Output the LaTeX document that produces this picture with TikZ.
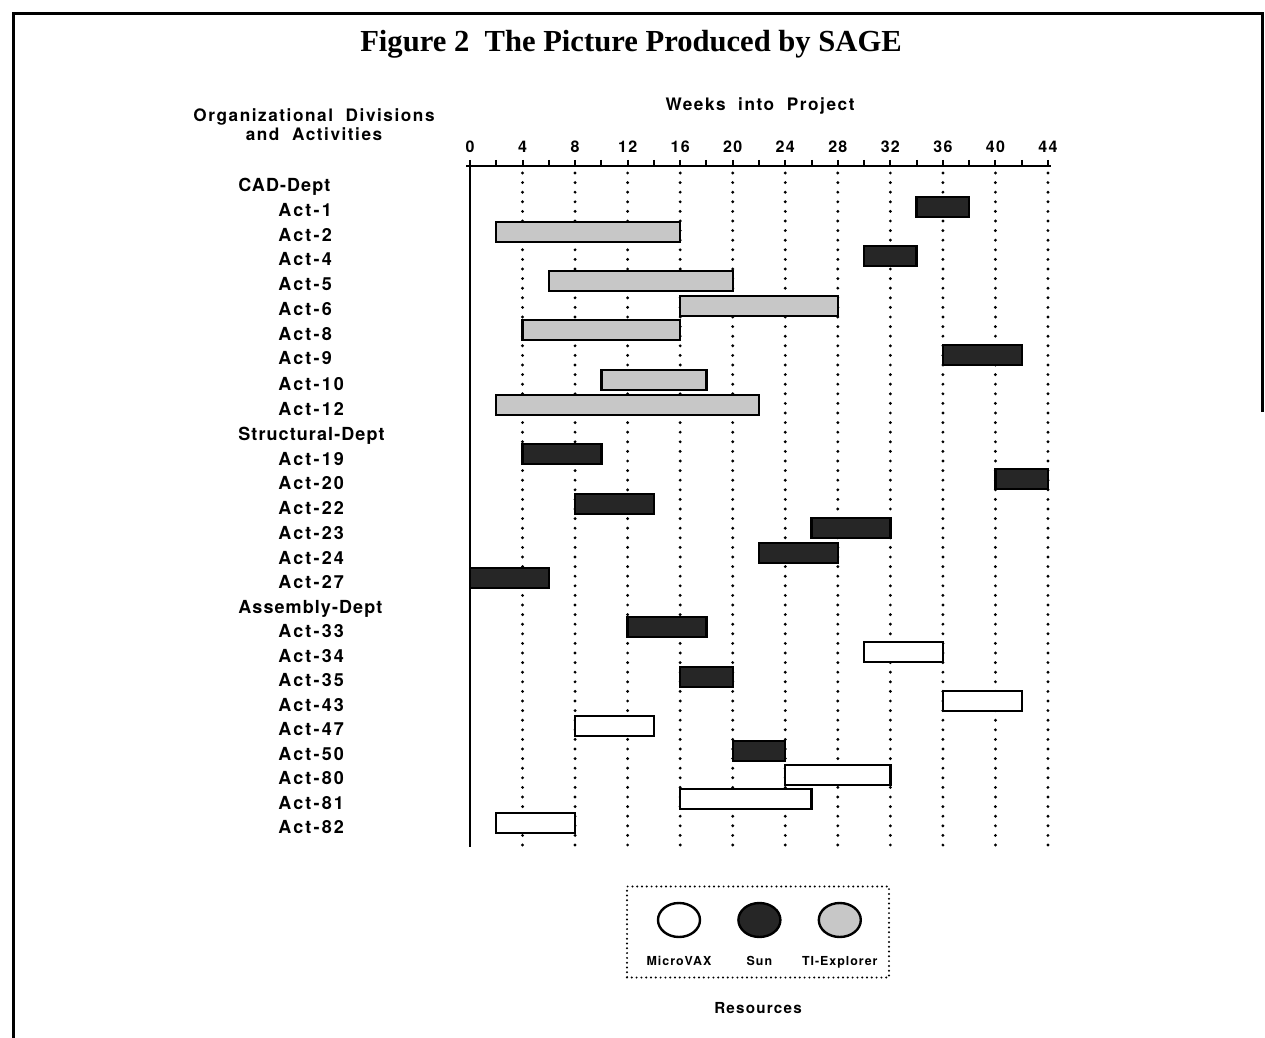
\documentclass[tikz,border=0pt]{standalone}
\usepackage{fontspec}
\setmainfont{Liberation Serif}
\newfontfamily\actfont[LetterSpace=12]{TeX Gyre Heros}
\newfontfamily\deptfont[LetterSpace=6]{TeX Gyre Heros}
\newfontfamily\headfont[LetterSpace=9]{TeX Gyre Heros}
\newfontfamily\keyfont[LetterSpace=8]{TeX Gyre Heros}
\usepackage{tikz}
\usetikzlibrary{shapes.geometric, positioning}
\tikzstyle{frameline}=
[
	line width=1.5pt
	, line cap=rect
]
\tikzstyle{titletext}=
[
	font=\bfseries\fontsize{15.3}{18}\selectfont
	, text height=10pt
	, text depth=0pt
	, inner sep=0pt
]
\tikzstyle{headtext}=
[
	font=\headfont\bfseries\fontsize{8.6}{9.5}\selectfont
	, align=center
	, inner sep=0pt
]
\tikzstyle{deptlabel}=
[
	anchor=west
	, font=\deptfont\bfseries\fontsize{9}{10}\selectfont
	, text height=6.5pt
	, text depth=0pt
	, inner sep=0pt
]
\tikzstyle{actlabel}=
[
	anchor=west
	, font=\actfont\bfseries\fontsize{9}{10}\selectfont
	, text height=6.5pt
	, text depth=0pt
	, inner sep=0pt
]
\tikzstyle{weeknum}=
[
	font=\keyfont\bfseries\fontsize{8}{9}\selectfont
	, text height=5.6pt
	, text depth=0pt
	, inner sep=0pt
]
\tikzstyle{axisline}=[line width=1pt]
\tikzstyle{gridline}=
[
	line width=1.6pt
	, line cap=round
	, dash pattern=on 0pt off 4.8pt
]
\tikzstyle{sunbar}=
[
	draw=black
	, line width=1.2pt
	, fill=black!85
]
\tikzstyle{tibar}=
[
	draw=black
	, line width=1.2pt
	, fill=black!22
]
\tikzstyle{vaxbar}=
[
	draw=black
	, line width=1.2pt
	, fill=white
]
\tikzstyle{legendbox}=
[
	rectangle
	, draw=black
	, line width=1.1pt
	, line cap=round
	, dash pattern=on 0pt off 2.4pt
	, minimum width=131pt
	, minimum height=45.5pt
]
\tikzstyle{keydot}=
[
	ellipse
	, draw=black
	, line width=1.2pt
	, minimum width=21pt
	, minimum height=17pt
	, inner sep=0pt
]
\tikzstyle{keytext}=
[
	font=\keyfont\bfseries\fontsize{6.2}{7}\selectfont
	, text height=4.4pt
	, text depth=0pt
	, inner sep=0pt
]
\tikzstyle{restext}=
[
	font=\keyfont\bfseries\fontsize{7.6}{9}\selectfont
	, text height=5.4pt
	, text depth=0pt
	, inner sep=0pt
]

\begin{document}
\begin{tikzpicture}[x=0.5pt,y=-0.5pt]
\useasboundingbox (0,0) rectangle (1265,1038);
\draw[frameline](13,1040)--(13,14)--(1262,14)--(1262,410);

\node(title)[titletext] at (631,42){Figure 2\ \ The Picture Produced by SAGE};
\node(heading)[headtext] at (314,125){Organizational\ \ Divisions\\and\ \ Activities};
\node(weeks)[headtext] at (760,106){Weeks\ \ into\ \ Project};

% divisions and activities
\node(cad)[deptlabel] at (238,185){CAD-Dept};
\node(a1)[actlabel] at (278,210){Act-1};
\node(a2)[actlabel] at (278,235){Act-2};
\node(a4)[actlabel] at (278,259){Act-4};
\node(a5)[actlabel] at (278,284){Act-5};
\node(a6)[actlabel] at (278,309){Act-6};
\node(a8)[actlabel] at (278,334){Act-8};
\node(a9)[actlabel] at (278,358){Act-9};
\node(a10)[actlabel] at (278,384){Act-10};
\node(a12)[actlabel] at (278,409){Act-12};
\node(struct)[deptlabel] at (238,434){Structural-Dept};
\node(a19)[actlabel] at (278,459){Act-19};
\node(a20)[actlabel] at (278,483){Act-20};
\node(a22)[actlabel] at (278,508){Act-22};
\node(a23)[actlabel] at (278,533){Act-23};
\node(a24)[actlabel] at (278,558){Act-24};
\node(a27)[actlabel] at (278,582){Act-27};
\node(assem)[deptlabel] at (238,607){Assembly-Dept};
\node(a33)[actlabel] at (278,631){Act-33};
\node(a34)[actlabel] at (278,656){Act-34};
\node(a35)[actlabel] at (278,680){Act-35};
\node(a43)[actlabel] at (278,705){Act-43};
\node(a47)[actlabel] at (278,729){Act-47};
\node(a50)[actlabel] at (278,754){Act-50};
\node(a80)[actlabel] at (278,778){Act-80};
\node(a81)[actlabel] at (278,803){Act-81};
\node(a82)[actlabel] at (278,827){Act-82};

\begin{scope}[shift={(470,0)},x=6.568pt]
% week axis
\node(n0)[weeknum] at (0,147){0};
\node(n4)[weeknum] at (4,147){4};
\node(n8)[weeknum] at (8,147){8};
\node(n12)[weeknum] at (12,147){12};
\node(n16)[weeknum] at (16,147){16};
\node(n20)[weeknum] at (20,147){20};
\node(n24)[weeknum] at (24,147){24};
\node(n28)[weeknum] at (28,147){28};
\node(n32)[weeknum] at (32,147){32};
\node(n36)[weeknum] at (36,147){36};
\node(n40)[weeknum] at (40,147){40};
\node(n44)[weeknum] at (44,147){44};

\draw[axisline](-0.3,166)--(44.2,166);
\draw[axisline](0,160)--(0,847);
\draw[axisline](2,160)--(2,166) (4,160)--(4,166) (6,160)--(6,166) (8,160)--(8,166)
	(10,160)--(10,166) (12,160)--(12,166) (14,160)--(14,166) (16,160)--(16,166)
	(18,160)--(18,166) (20,160)--(20,166) (22,160)--(22,166) (24,160)--(24,166)
	(26,160)--(26,166) (28,160)--(28,166) (30,160)--(30,166) (32,160)--(32,166)
	(34,160)--(34,166) (36,160)--(36,166) (38,160)--(38,166) (40,160)--(40,166)
	(42,160)--(42,166) (44,160)--(44,166);

\draw[gridline](4,173)--(4,848);
\draw[gridline](8,173)--(8,848);
\draw[gridline](12,173)--(12,848);
\draw[gridline](16,173)--(16,848);
\draw[gridline](20,173)--(20,848);
\draw[gridline](24,173)--(24,848);
\draw[gridline](28,173)--(28,848);
\draw[gridline](32,173)--(32,848);
\draw[gridline](36,173)--(36,848);
\draw[gridline](40,173)--(40,848);
\draw[gridline](44,173)--(44,848);

% bars
\draw[sunbar](34,197) rectangle (38,217);
\draw[tibar](2,222) rectangle (16,242);
\draw[sunbar](30,246) rectangle (34,266);
\draw[tibar](6,271) rectangle (20,291);
\draw[tibar](16,296) rectangle (28,316);
\draw[tibar](4,320) rectangle (16,340);
\draw[sunbar](36,345) rectangle (42,365);
\draw[tibar](10,370) rectangle (18,390);
\draw[tibar](2,395) rectangle (22,415);
\draw[sunbar](4,444) rectangle (10,464);
\draw[sunbar](40,469) rectangle (44,489);
\draw[sunbar](8,494) rectangle (14,514);
\draw[sunbar](26,518) rectangle (32,538);
\draw[sunbar](22,543) rectangle (28,563);
\draw[sunbar](0,568) rectangle (6,588);
\draw[sunbar](12,617) rectangle (18,637);
\draw[vaxbar](30,642) rectangle (36,662);
\draw[sunbar](16,667) rectangle (20,687);
\draw[vaxbar](36,691) rectangle (42,711);
\draw[vaxbar](8,716) rectangle (14,736);
\draw[sunbar](20,741) rectangle (24,761);
\draw[vaxbar](24,765) rectangle (32,785);
\draw[vaxbar](16,789) rectangle (26,809);
\draw[vaxbar](2,813) rectangle (8,833);
\end{scope}

% resources key
\node(legend)[legendbox] at (758,932){};
\node(vax)[keydot] at (679,920){};
\node(sun)[keydot, fill=black!85, right=18pt of vax]{};
\node(tiexp)[keydot, fill=black!22, right=18pt of sun]{};
\node(vaxname)[keytext, below=9pt of vax]{MicroVAX};
\node(sunname)[keytext, below=9pt of sun]{Sun};
\node(tiname)[keytext, below=9pt of tiexp]{TI-Explorer};
\node(resources)[restext, below=12pt of legend]{Resources};

\end{tikzpicture}
\end{document}
